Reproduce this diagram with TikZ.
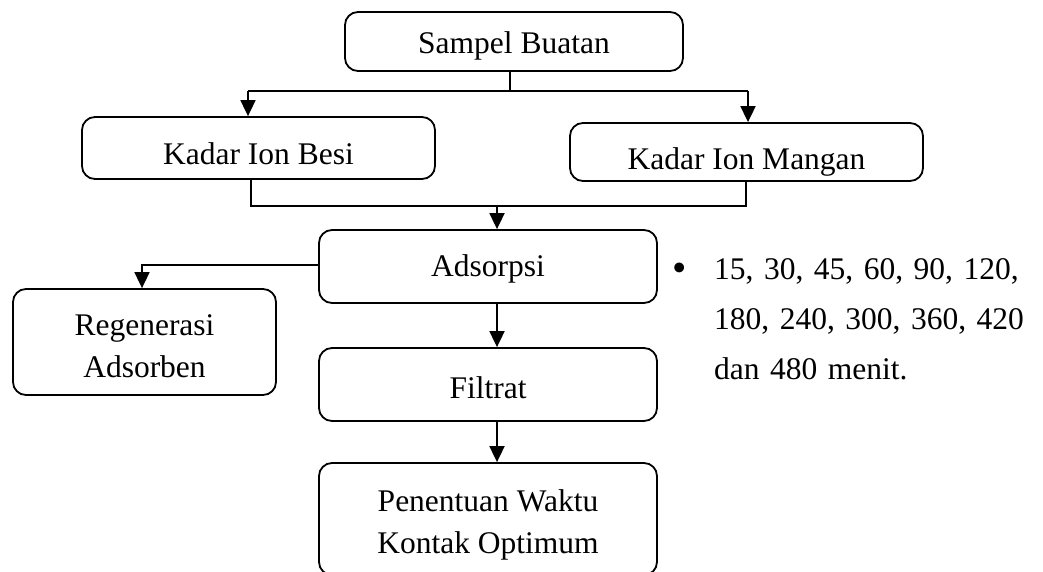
\documentclass[tikz,border=0pt]{standalone}
\usepackage{fontspec}
\setmainfont{Liberation Serif}
\usetikzlibrary{arrows.meta}
\newcommand\bltext[2]{\raisebox{-#1}[0pt][0pt]{#2}}
\newcommand\twolines[3]{\raisebox{-#1}[0pt][0pt]{\begin{tabular}[b]{@{}c@{}}#2\\#3\end{tabular}}}
\begin{document}
\begin{tikzpicture}[x=1pt,y=-1pt,
  box/.style={draw, line width=1.8pt, rounded corners=13pt, inner sep=0pt,
    align=center, font=\fontsize{31.5pt}{42pt}\selectfont},
  conn/.style={line width=1.8pt},
  arr/.style={line width=1.8pt, -{Triangle[width=15pt,length=16pt]}}]
\useasboundingbox (0,0) rectangle (1043,572);
% boxes
\node[box, minimum width=338pt, minimum height=59pt] (sampel) at (514,41.5) {\bltext{12pt}{Sampel Buatan}};
\node[box, minimum width=353pt, minimum height=62pt] (besi) at (258.5,148) {\bltext{17pt}{Kadar Ion Besi}};
\node[box, minimum width=353pt, minimum height=58pt] (mangan) at (746.5,152) {\bltext{18pt}{Kadar Ion Mangan}};
\node[box, minimum width=338pt, minimum height=73pt] (adsorpsi) at (488,266.5) {\bltext{10pt}{Adsorpsi}};
\node[box, minimum width=263pt, minimum height=106pt] (regen) at (144.5,342) {\twolines{35pt}{Regenerasi}{Adsorben}};
\node[box, minimum width=338pt, minimum height=73pt] (filtrat) at (488,384.5) {\bltext{14pt}{Filtrat}};
\node[box, minimum width=338pt, minimum height=112pt] (penentuan) at (488,519) {\twolines{34pt}{Penentuan Waktu}{Kontak Optimum}};
% bullet text
\node[font=\fontsize{31.5pt}{50pt}\selectfont, inner sep=0pt] (bullet) at (680,272) {\scalebox{1.3}{•}};
\node[font=\fontsize{31.5pt}{50pt}\selectfont, inner sep=0pt, anchor=north west, align=left, text width=312pt] (waktu) at (714,258)
  {\makebox[312pt][s]{15, 30, 45, 60, 90, 120,}\\\makebox[312pt][s]{180, 240, 300, 360, 420}\\dan 480 menit.};
% coordinates
\coordinate (s1) at (510,91);
\coordinate (bL) at (248,91);
\coordinate (bR) at (748,91);
\coordinate (mL) at (251,206);
\coordinate (mR) at (746,206);
\coordinate (m1) at (497,206);
\coordinate (r1) at (142,265);
% connectors
\draw[conn] (s1 |- sampel.south) -- (s1);
\draw[conn] (bL) -- (bR);
\draw[arr] (bL) -- (besi.north -| bL);
\draw[arr] (bR) -- (mangan.north -| bR);
\draw[conn] (besi.south -| mL) -- (mL) -- (mR) -- (mangan.south -| mR);
\draw[arr] (m1) -- (adsorpsi.north -| m1);
\draw[arr] (adsorpsi.west |- r1) -- (r1) -- (r1 |- regen.north);
\draw[arr] (adsorpsi.south -| m1) -- (filtrat.north -| m1);
\draw[arr] (filtrat.south -| m1) -- (penentuan.north -| m1);
\end{tikzpicture}
\end{document}
